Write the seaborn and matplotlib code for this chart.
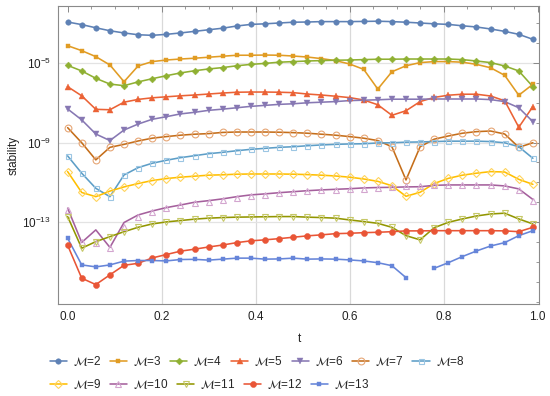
import numpy as np
import matplotlib
matplotlib.use("Agg")
import matplotlib.pyplot as plt
import seaborn as sns
from matplotlib.lines import Line2D
from matplotlib.ticker import FixedLocator, NullFormatter, FuncFormatter
from matplotlib.font_manager import FontProperties

# ---------------- data (log10 of stability) ----------------
t = [0.00, 0.03, 0.06, 0.09, 0.12, 0.15, 0.18, 0.21, 0.24, 0.27, 0.30, 0.33,
     0.36, 0.39, 0.42, 0.45, 0.48, 0.51, 0.54, 0.57, 0.60, 0.63, 0.66, 0.69,
     0.72, 0.75, 0.78, 0.81, 0.84, 0.87, 0.90, 0.93, 0.96, 0.99]

m2 = [-2.94, -3.07, -3.23, -3.38, -3.49, -3.58, -3.61, -3.56, -3.49, -3.41,
      -3.33, -3.25, -3.14, -3.06, -3.03, -2.99, -2.95, -2.94, -2.92, -2.92,
      -2.92, -2.91, -2.90, -2.92, -2.95, -2.99, -3.03, -3.06, -3.13, -3.19,
      -3.29, -3.41, -3.56, -3.81]
m3 = [-4.13, -4.38, -4.68, -5.10, -5.94, -5.15, -4.93, -4.85, -4.80, -4.76,
      -4.71, -4.66, -4.61, -4.61, -4.60, -4.61, -4.65, -4.70, -4.78, -4.88,
      -5.05, -5.32, -6.31, -5.44, -5.14, -4.98, -4.93, -4.93, -4.96, -5.07,
      -5.24, -5.62, -6.62, -6.07]
m4 = [-5.12, -5.40, -5.77, -6.06, -6.14, -5.95, -5.79, -5.64, -5.50, -5.39,
      -5.30, -5.23, -5.14, -5.07, -5.02, -4.96, -4.93, -4.90, -4.88, -4.86,
      -4.85, -4.83, -4.81, -4.81, -4.80, -4.80, -4.80, -4.80, -4.83, -4.90,
      -4.98, -5.15, -5.40, -6.19]
m5 = [-6.19, -6.65, -7.33, -7.35, -6.97, -6.83, -6.75, -6.70, -6.65, -6.61,
      -6.56, -6.51, -6.47, -6.46, -6.46, -6.47, -6.49, -6.56, -6.61, -6.67,
      -6.74, -6.86, -7.10, -7.63, -7.40, -6.94, -6.73, -6.62, -6.57, -6.57,
      -6.66, -6.90, -8.23, -7.19]
m6 = [-7.31, -7.86, -8.57, -8.90, -8.37, -8.07, -7.83, -7.70, -7.56, -7.48,
      -7.38, -7.32, -7.25, -7.18, -7.13, -7.08, -7.05, -7.00, -6.97, -6.94,
      -6.89, -6.87, -6.85, -6.82, -6.82, -6.82, -6.81, -6.81, -6.81, -6.81,
      -6.84, -6.94, -7.25, -7.95]
m7 = [-8.25, -9.01, -9.87, -9.24, -9.09, -8.92, -8.78, -8.70, -8.63, -8.58,
      -8.55, -8.49, -8.47, -8.47, -8.47, -8.48, -8.50, -8.53, -8.58, -8.63,
      -8.70, -8.78, -8.90, -9.21, -10.88, -9.21, -8.83, -8.67, -8.53, -8.45,
      -8.42, -8.57, -9.24, -9.01]
m8 = [-9.67, -10.54, -11.30, -11.72, -10.63, -10.26, -10.04, -9.89, -9.76, -9.66,
      -9.56, -9.49, -9.41, -9.34, -9.29, -9.24, -9.21, -9.16, -9.12, -9.09,
      -9.07, -9.06, -9.02, -9.01, -8.98, -8.97, -8.95, -8.93, -8.93, -8.93,
      -8.95, -9.01, -9.21, -9.79]
m9 = [-10.46, -11.51, -11.72, -11.44, -11.23, -11.06, -10.91, -10.81, -10.74, -10.69,
      -10.64, -10.62, -10.59, -10.58, -10.58, -10.58, -10.59, -10.61, -10.64, -10.68,
      -10.74, -10.83, -10.95, -11.17, -11.70, -11.50, -11.06, -10.80, -10.64, -10.54,
      -10.46, -10.48, -10.85, -11.10]
m10 = [-12.30, -14.02, -13.39, -14.27, -13.02, -12.64, -12.44, -12.27, -12.14, -12.00,
       -11.92, -11.83, -11.72, -11.63, -11.58, -11.52, -11.47, -11.42, -11.38, -11.35,
       -11.32, -11.28, -11.26, -11.25, -11.23, -11.22, -11.15, -11.13, -11.13, -11.13,
       -11.13, -11.18, -11.33, -11.86]
m10_marks = [-12.39, -13.99, -14.06, -14.31, -13.24, -12.72, -12.47, -12.29, -12.16, -12.06,
             -12.00, -11.88, -11.78, -11.70, -11.63, -11.55, -11.49, -11.44, -11.40, -11.37,
             -11.34, -11.31, -11.29, -11.21, -11.18, -11.18, -11.13, -11.13, -11.13, -11.13,
             -11.13, -11.18, -11.38, -11.92]
m11 = [-12.72, -14.31, -13.98, -13.73, -13.48, -13.26, -13.09, -12.99, -12.92, -12.85,
       -12.80, -12.77, -12.75, -12.74, -12.73, -12.72, -12.72, -12.75, -12.77, -12.80,
       -12.89, -12.97, -13.06, -13.26, -13.68, -13.89, -13.28, -13.01, -12.84, -12.69,
       -12.59, -12.55, -12.84, -13.09]
m12 = [-14.16, -15.82, -16.14, -15.65, -15.17, -15.07, -14.80, -14.63, -14.46, -14.36,
       -14.25, -14.15, -14.03, -13.94, -13.89, -13.83, -13.76, -13.69, -13.64, -13.58,
       -13.56, -13.53, -13.51, -13.48, -13.44, -13.44, -13.43, -13.43, -13.43, -13.43,
       -13.43, -13.44, -13.48, -13.26]
m13 = [-13.81, -15.15, -15.25, -15.15, -14.96, -14.93, -14.93, -14.95, -14.88, -14.87,
       -14.91, -14.86, -14.81, -14.81, -14.86, -14.85, -14.81, -14.86, -14.85, -14.86,
       -14.90, -14.95, -15.04, -15.19, -15.79, np.nan, -15.32, -15.04, -14.73, -14.45,
       -14.20, -14.03, -13.68, -13.43]

series_M = [2, 3, 4, 5, 6, 7, 8, 9, 10, 11, 12, 13]
series_line = [m2, m3, m4, m5, m6, m7, m8, m9, m10, m11, m12, m13]
series_marks = [m2, m3, m4, m5, m6, m7, m8, m9, m10_marks, m11, m12, m13]
labels = [r"$\mathcal{M}$=%d" % m for m in series_M]

# ---------------- styles ----------------
line_colors = ['#5E81B5', '#E19C24', '#8FB032', '#EB6235', '#8778B3', '#C56E1A',
               '#5D9EC7', '#FFBF00', '#A5609D', '#929600', '#E95536', '#6685D9']
mark_colors = ['#5E81B5', '#E19C24', '#8FB032', '#EB6235', '#8778B3', '#E6A676',
               '#9CC6E3', '#FFD45C', '#D3A6CF', '#C6C868', '#E95536', '#6685D9']
markers = ['o', 's', 'D', '^', 'v', 'o', 's', 'D', '^', 'v', 'o', 's']
msizes = [4.0, 2.9, 3.5, 4.0, 4.0, 4.9, 3.6, 3.7, 4.5, 4.5, 4.4, 2.9]
filled = [True, True, True, True, True, False, False, False, False, False, True, True]

sns.set_theme(style="white")
plt.rcParams['font.family'] = ['Liberation Sans', 'DejaVu Sans']
plt.rcParams['mathtext.fontset'] = 'custom'
plt.rcParams['mathtext.rm'] = 'Liberation Sans'
plt.rcParams['mathtext.it'] = 'Liberation Sans:italic'
plt.rcParams['mathtext.bf'] = 'Liberation Sans:bold'

fig = plt.figure(figsize=(5.5, 3.96), dpi=100)
ax = fig.add_axes([0.105, 0.2316, 0.875, 0.754])

# grid lines
for gx in [0.2, 0.4, 0.6, 0.8]:
    ax.axvline(gx, color='#d9d9d9', lw=0.9, zorder=0)
for gy in [1e-5, 1e-9, 1e-13]:
    ax.axhline(gy, color='#e3e3e3', lw=0.9, zorder=0)

t_arr = np.array(t)


def segments(vals):
    v = np.array(vals, dtype=float)
    ok = np.isfinite(v)
    segs, cur = [], []
    for i in range(len(v)):
        if ok[i]:
            cur.append(i)
        elif cur:
            segs.append(cur)
            cur = []
    if cur:
        segs.append(cur)
    return segs


LW = 1.15
handles = []
for k in range(len(series_M)):
    lv = np.array(series_line[k], dtype=float)
    mv = np.array(series_marks[k], dtype=float)
    for seg in segments(lv):
        sns.lineplot(x=t_arr[seg], y=10.0 ** lv[seg], ax=ax, color=line_colors[k],
                     lw=LW, estimator=None, sort=False, legend=False, zorder=2 + k * 0.01)
    okm = np.isfinite(mv)
    mfc = mark_colors[k] if filled[k] else 'none'
    mew = 0.8 if not filled[k] else 0.3
    sns.lineplot(x=t_arr[okm], y=10.0 ** mv[okm], ax=ax, color=mark_colors[k],
                 linestyle='none', marker=markers[k], markersize=msizes[k],
                 markerfacecolor=mfc, markeredgecolor=mark_colors[k],
                 markeredgewidth=mew,
                 estimator=None, sort=False, legend=False, zorder=3 + k * 0.01)
    handles.append(Line2D([], [], color=line_colors[k], lw=LW, marker=markers[k],
                          markersize=msizes[k], markerfacecolor=mfc,
                          markeredgecolor=mark_colors[k], markeredgewidth=mew))

ax.set_yscale('log')
ax.set_xlim(-0.021, 1.003)
ax.set_ylim(10 ** -17.13, 10 ** -2.12)

ax.xaxis.set_major_locator(FixedLocator([0.0, 0.2, 0.4, 0.6, 0.8, 1.0]))
ax.xaxis.set_minor_locator(FixedLocator([0.05, 0.1, 0.15, 0.25, 0.3, 0.35, 0.45, 0.5, 0.55,
                                         0.65, 0.7, 0.75, 0.85, 0.9, 0.95]))
ax.xaxis.set_major_formatter(FuncFormatter(lambda v, p: "%.1f" % v))
ax.yaxis.set_major_locator(FixedLocator([1e-13, 1e-9, 1e-5]))
ax.yaxis.set_minor_locator(FixedLocator([10.0 ** e for e in range(-17, -2) if e not in (-5, -9, -13)]))
ax.yaxis.set_major_formatter(FuncFormatter(lambda v, p: r"$10^{%d}$" % int(round(np.log10(v)))))
ax.yaxis.set_minor_formatter(NullFormatter())

ax.tick_params(which='both', direction='in', top=True, right=True, color='#888888',
               labelsize=8.5, labelcolor='#222222', pad=5)
ax.tick_params(which='major', length=4.5, width=0.7)
ax.tick_params(which='minor', length=2.5, width=0.6)
for s in ax.spines.values():
    s.set_color('#8a8a8a')
    s.set_linewidth(0.8)

ax.set_xlabel('t', fontsize=8.5, color='#222222')
ax.set_ylabel('stability', fontsize=8.5, color='#222222')
ax.xaxis.set_label_coords(0.503, -0.095)
ax.yaxis.set_label_coords(-0.079, 0.5)

lprop = FontProperties(family=['Liberation Sans', 'DejaVu Sans'], size=8.5, math_fontfamily='stix')
common = dict(frameon=False, handlelength=1.45, handletextpad=0.5, columnspacing=0.75,
              borderpad=0, borderaxespad=0, numpoints=1, prop=lprop)
leg1 = fig.legend(handles[:7], labels[:7], ncol=7, loc='center left',
                  bbox_to_anchor=(0.090, 0.088), **common)
leg2 = fig.legend(handles[7:], labels[7:], ncol=5, loc='center left',
                  bbox_to_anchor=(0.090, 0.030), **common)

fig.savefig('out.png', dpi=100)
